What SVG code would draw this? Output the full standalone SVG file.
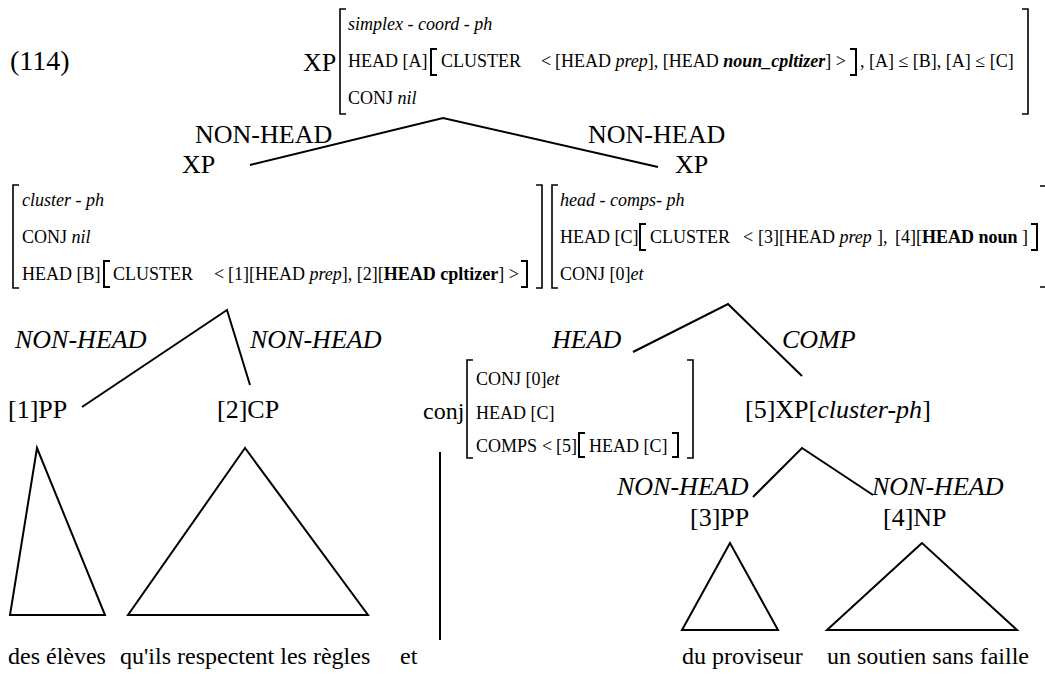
<svg xmlns="http://www.w3.org/2000/svg" width="1045" height="684" viewBox="0 0 1045 684">
<style>
text{font-family:"Liberation Serif","Times New Roman",serif;fill:#000}
.avm{font-size:18px}
.lbl{font-size:26px}
.num{font-size:28px}
.bot{font-size:24px}
.it{font-style:italic}
.b{font-weight:bold}
.br{fill:none;stroke:#000;stroke-width:1.6}
.tb{fill:none;stroke:#000;stroke-width:2}
.ln{fill:none;stroke:#000;stroke-width:2}
</style>
<rect width="1045" height="684" fill="#fff"/>
<g id="example-number"><text class="num" x="10" y="70">(114)</text></g>
<g id="node-top">
<text class="lbl" x="303" y="71">XP</text>
<path class="br" d="M346,9 H340 V114 H346"/>
<path class="br" d="M1022,9 H1028 V114 H1022"/>
<text class="avm it" x="348" y="30">simplex - coord - ph</text>
<text class="avm" y="67"><tspan x="348">HEAD [A]</tspan><tspan x="441">CLUSTER</tspan><tspan x="541">&lt;</tspan><tspan x="555">[HEAD </tspan><tspan class="it">prep</tspan><tspan>], [HEAD </tspan><tspan class="it b">noun_cpltizer</tspan><tspan>] &gt;</tspan><tspan x="860">, [A] ≤ [B], [A] ≤ [C]</tspan></text>
<path class="tb" d="M437,49 H431 V75 H437"/>
<path class="tb" d="M850,49 H856 V75 H850"/>
<text class="avm" x="348" y="104">CONJ <tspan class="it">nil</tspan></text>
</g>
<g id="node-xp-left">
<text class="lbl" x="195" y="143">NON-HEAD</text>
<text class="lbl" x="182" y="173">XP</text>
<path class="br" d="M19,185 H13 V288 H19"/>
<text class="avm it" x="22" y="206">cluster - ph</text>
<text class="avm" x="22" y="243">CONJ <tspan class="it">nil</tspan></text>
<text class="avm" y="280"><tspan x="22">HEAD [B]</tspan><tspan x="113">CLUSTER</tspan><tspan x="214">&lt;</tspan><tspan x="228">[1][HEAD </tspan><tspan class="it">prep</tspan><tspan>], [2][</tspan><tspan class="b">HEAD cpltizer</tspan><tspan>] &gt;</tspan></text>
<path class="tb" d="M110,261 H104 V287 H110"/>
<path class="tb" d="M521,261 H527 V287 H521"/>
<path class="br" d="M536,185 H542 V288 H536"/>
</g>
<g id="node-xp-right">
<text class="lbl" x="588" y="143">NON-HEAD</text>
<text class="lbl" x="675" y="173">XP</text>
<path class="br" d="M558,185 H552 V288 H558"/>
<text class="avm it" x="560" y="206">head - comps- ph</text>
<text class="avm" y="243"><tspan x="560">HEAD [C]</tspan><tspan x="650">CLUSTER</tspan><tspan x="743">&lt;</tspan><tspan x="758">[3][HEAD </tspan><tspan class="it">prep</tspan><tspan x="877">], </tspan><tspan x="895">[4][</tspan><tspan class="b">HEAD noun</tspan><tspan> ]</tspan></text>
<path class="tb" d="M646,224 H640 V250 H646"/>
<path class="tb" d="M1031,224 H1037 V250 H1031"/>
<text class="avm" x="560" y="280">CONJ [0]<tspan class="it">et</tspan></text>
<path class="br" d="M1040,186 H1045 M1040,287 H1045"/>
</g>
<g id="node-pp1">
<text class="lbl it" x="15" y="348">NON-HEAD</text>
<text class="lbl" x="8" y="418">[1]PP</text>
</g>
<g id="node-cp2">
<text class="lbl it" x="250" y="348">NON-HEAD</text>
<text class="lbl" x="217" y="418">[2]CP</text>
</g>
<g id="node-conj">
<text class="lbl it" x="552" y="348">HEAD</text>
<text class="lbl" x="423" y="419" style="font-size:24px">conj</text>
<path class="br" d="M473,360 H467 V458 H473"/>
<path class="br" d="M687,360 H693 V458 H687"/>
<text class="avm" x="476" y="385">CONJ [0]<tspan class="it">et</tspan></text>
<text class="avm" x="476" y="419">HEAD [C]</text>
<text class="avm" y="452"><tspan x="476">COMPS</tspan><tspan x="542">&lt;</tspan><tspan x="556">[5]</tspan><tspan x="589">HEAD [C]</tspan></text>
<path class="tb" d="M585,433 H579 V457 H585"/>
<path class="tb" d="M672,433 H678 V457 H672"/>
</g>
<g id="node-xp5">
<text class="lbl it" x="782" y="348">COMP</text>
<text class="lbl" x="745" y="418">[5]XP[<tspan class="it">cluster-ph</tspan>]</text>
</g>
<g id="node-pp3">
<text class="lbl it" x="617" y="495">NON-HEAD</text>
<text class="lbl" x="690" y="526">[3]PP</text>
</g>
<g id="node-np4">
<text class="lbl it" x="872" y="495">NON-HEAD</text>
<text class="lbl" x="883" y="526">[4]NP</text>
</g>
<g id="connectors">
<path class="ln" d="M250,165 L443,118 L658,167"/>
<path class="ln" d="M82,407 L227,310 L250,385"/>
<path class="ln" d="M633,352 L728,304 L802,376"/>
<path class="ln" d="M753,497 L802,448 L873,495"/>
<path class="ln" d="M37,448 L10,615 L105,615 Z"/>
<path class="ln" d="M245,448 L128,615 L368,615 Z"/>
<path class="ln" d="M440,452 V640"/>
<path class="ln" d="M730,543 L682,630 L778,630 Z"/>
<path class="ln" d="M922,543 L827,630 L1017,630 Z"/>
</g>
<g id="leaves">
<text class="bot" x="8" y="664">des élèves</text>
<text class="bot" x="120" y="664">qu'ils respectent les règles</text>
<text class="bot" x="400" y="664">et</text>
<text class="bot" x="682" y="664">du proviseur</text>
<text class="bot" x="827" y="664">un soutien sans faille</text>
</g>
</svg>
